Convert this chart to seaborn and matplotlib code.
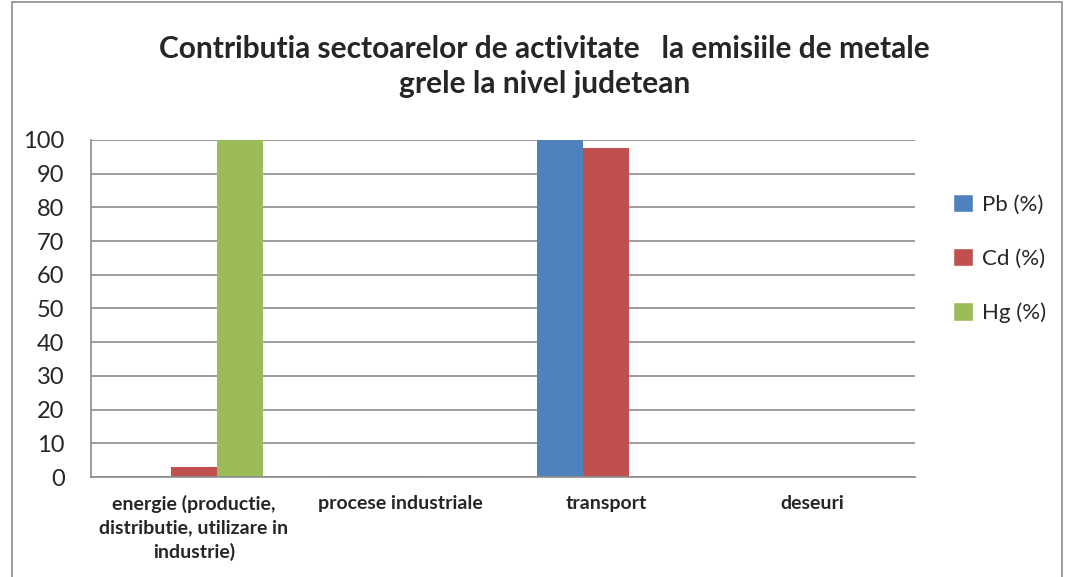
import numpy as np
import pandas as pd
import seaborn as sns
import matplotlib.pyplot as plt
from matplotlib.patches import Rectangle, Patch

sectors = ["energie (productie,\ndistributie, utilizare in\nindustrie)",
           "procese industriale", "transport", "deseuri"]
series = ["Pb (%)", "Cd (%)", "Hg (%)"]
pb = [0.3, 0.3, 100, 0]
cd = [3, 0.3, 97.5, 0]
hg = [100, 0.3, 0, 0]
colors = ["#4F81BD", "#C0504D", "#9BBB59"]

df = pd.DataFrame({
    "sector": sectors * 3,
    "metal": [s for s in series for _ in sectors],
    "value": pb + cd + hg,
})

sns.set_style("white")
plt.rcParams['font.family'] = ['Lato', 'DejaVu Sans']

fig = plt.figure(figsize=(10.68, 5.77), dpi=100)
ax = fig.add_axes([0.0852, 0.1733, 0.7715, 0.5841])

sns.barplot(data=df, x="sector", y="value", hue="metal", order=sectors,
            hue_order=series, palette=colors, saturation=1, width=0.67,
            linewidth=0, legend=False, ax=ax)

ax.set_ylim(0, 100)
ax.set_yticks(np.arange(0, 101, 10))
ax.yaxis.grid(True, color="#8c8c8c", linewidth=1.2)
ax.set_axisbelow(True)
ax.set_xlabel("")
ax.set_ylabel("")
ax.tick_params(axis="y", labelsize=17, pad=19, length=0)
ax.tick_params(axis="x", labelsize=14, length=0, pad=13)
for lab in ax.get_xticklabels():
    lab.set_fontweight("bold")
    lab.set_multialignment("center")
    lab.set_linespacing(1.45)
for side in ["top", "right"]:
    ax.spines[side].set_visible(False)
for side in ["left", "bottom"]:
    ax.spines[side].set_color("#8c8c8c")
    ax.spines[side].set_linewidth(1.2)

handles = [Patch(facecolor=c, label=s) for c, s in zip(colors, series)]
fig.legend(handles=handles, loc="center left", bbox_to_anchor=(0.874, 0.552),
           frameon=False, fontsize=16, labelspacing=1.5, handlelength=0.9,
           handleheight=0.9, handletextpad=0.4)

fig.text(0.51, 0.885, "Contributia sectoarelor de activitate   la emisiile de metale\ngrele la nivel judetean",
         ha="center", va="center", fontsize=21.5, fontweight="bold", linespacing=1.3)

fig.add_artist(Rectangle((12 / 1068, -0.01), 1050 / 1068, 1.0065, transform=fig.transFigure,
                         fill=False, edgecolor="#8c8c8c", linewidth=1.2))

fig.savefig("out.png", dpi=100)
